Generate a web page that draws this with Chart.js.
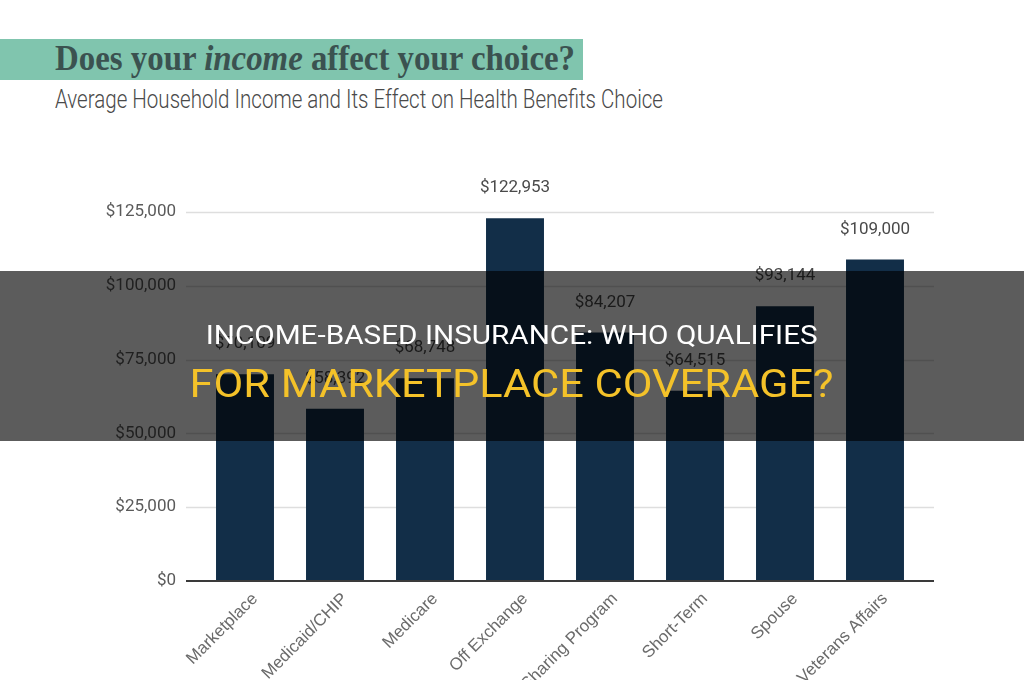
<!DOCTYPE html>
<html>
<head>
<meta charset="utf-8">
<script src="https://cdn.jsdelivr.net/npm/chart.js@4.4.1/dist/chart.umd.min.js"></script>
<style>
  html, body { margin: 0; padding: 0; background: #fff; width: 1024px; height: 680px; overflow: hidden; position: relative; }
  #banner { position: absolute; left: 0; top: 39px; width: 583px; height: 41px; background: #80c5ae; }
  #title { position: absolute; left: 55px; top: 37px; font-family: "Liberation Serif", serif; font-weight: bold; font-size: 35px; color: #3b5250; white-space: nowrap; transform-origin: left center; display: inline-block; line-height: 44px; }
  #subtitle { position: absolute; left: 55px; top: 84px; font-family: Roboto, sans-serif; font-weight: 300; font-size: 25px; color: #4a4a4a; white-space: nowrap; transform-origin: left center; display: inline-block; line-height: 32px; }
  #wrap { position: absolute; left: 0; top: 178px; width: 1024px; height: 518px; }
  #overlay { position: absolute; left: 0; top: 271px; width: 1024px; height: 170px; background: rgba(0,0,0,0.64); z-index: 5; }
  .ov { position: absolute; left: 0; width: 1024px; text-align: center; white-space: nowrap; }
  .ov span { display: inline-block; font-family: Roboto, sans-serif; transform-origin: center center; }
  #ov1 { top: 48px; line-height: 34px; }
  #ov1 span { color: #ffffff; font-size: 25px; font-weight: 400; }
  #ov2 { top: 90px; line-height: 46px; }
  #ov2 span { color: #f4c229; font-size: 38px; font-weight: 400; }
</style>
</head>
<body>
<div id="banner"></div>
<div id="title">Does your <i>income</i> affect your choice?</div>
<div id="subtitle">Average Household Income and Its Effect on Health Benefits Choice</div>
<div id="wrap"><canvas id="chart" width="1024" height="518"></canvas></div>
<div id="overlay">
  <div class="ov" id="ov1"><span>INCOME-BASED INSURANCE: WHO QUALIFIES</span></div>
  <div class="ov" id="ov2"><span>FOR MARKETPLACE COVERAGE?</span></div>
</div>
<script>
// chart data
const categories = ['Marketplace', 'Medicaid/CHIP', 'Medicare', 'Off Exchange', 'Cost Sharing Program', 'Short-Term', 'Spouse', 'Veterans Affairs'];
const incomes = [70109, 58392, 68748, 122953, 84207, 64515, 93144, 109000];
const yTicks = [0, 25000, 50000, 75000, 100000, 125000];

const money = v => '$' + v.toLocaleString('en-US');

// squeeze text to the width it has in the picture
function fitWidth(el, w) {
    const r = el.getBoundingClientRect().width;
    el.style.transform = 'scaleX(' + (w / r) + ')';
}
fitWidth(document.getElementById('title'), 520);
fitWidth(document.getElementById('subtitle'), 608);
fitWidth(document.querySelector('#ov1 span'), 612);
fitWidth(document.querySelector('#ov2 span'), 644);

// grid lines reach a bit past the plot area
const gridPlugin = {
    id: 'wideGrid',
    beforeDatasetsDraw(chart) {
        const ctx = chart.ctx, y = chart.scales.y, a = chart.chartArea;
        ctx.save();
        ctx.strokeStyle = '#dedede';
        ctx.lineWidth = 1.5;
        yTicks.forEach(t => {
            if (t === 0) return;
            const py = Math.round(y.getPixelForValue(t)) + 0.5;
            ctx.beginPath();
            ctx.moveTo(a.left - 14, py);
            ctx.lineTo(a.right + 14, py);
            ctx.stroke();
        });
        ctx.restore();
    },
    afterDatasetsDraw(chart) {
        const ctx = chart.ctx, y = chart.scales.y, a = chart.chartArea;
        ctx.save();
        // base line
        const py = y.getPixelForValue(0);
        ctx.strokeStyle = '#3a3a3a';
        ctx.lineWidth = 2;
        ctx.beginPath();
        ctx.moveTo(a.left - 14, py);
        ctx.lineTo(a.right + 14, py);
        ctx.stroke();
        // value labels
        ctx.fillStyle = '#4a4a4a';
        ctx.font = '17px Roboto';
        ctx.textAlign = 'center';
        ctx.textBaseline = 'middle';
        chart.getDatasetMeta(0).data.forEach((bar, i) => {
            ctx.fillText(money(incomes[i]), bar.x, bar.y - 30);
        });
        ctx.restore();
    }
};

new Chart(document.getElementById('chart'), {
    type: 'bar',
    data: {
        labels: categories,
        datasets: [{
            data: incomes,
            backgroundColor: '#122e48',
            barPercentage: 0.644,
            categoryPercentage: 1
        }]
    },
    options: {
        responsive: false,
        animation: false,
        devicePixelRatio: 1,
        layout: { padding: { top: 30, right: 104, left: 0, bottom: 0 } },
        plugins: { legend: { display: false }, tooltip: { enabled: false } },
        scales: {
            x: {
                grid: { display: false },
                border: { display: false },
                ticks: {
                    color: '#6b6b6b',
                    font: { family: 'Liberation Sans', size: 17 },
                    minRotation: 45,
                    maxRotation: 45,
                    autoSkip: false,
                    padding: 0,
                    labelOffset: 10
                },
                afterFit(scale) { scale.height = 115; }
            },
            y: {
                min: 0,
                max: 125000,
                grid: { display: false, drawTicks: false },
                border: { display: false },
                ticks: {
                    stepSize: 25000,
                    color: '#5a5a5a',
                    font: { family: 'Roboto', size: 17 },
                    padding: 24,
                    callback: v => money(v)
                },
                afterFit(scale) { scale.width = 200; }
            }
        }
    },
    plugins: [gridPlugin]
});
</script>
</body>
</html>
